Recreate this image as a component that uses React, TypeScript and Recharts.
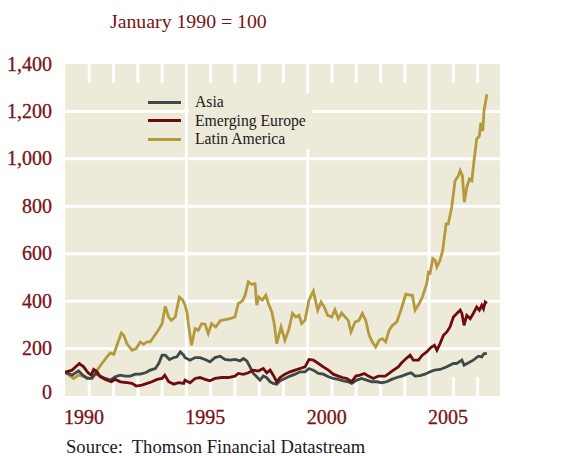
import React from 'react';
import { LineChart, Line, XAxis, YAxis, CartesianGrid } from 'recharts';

// Years are offsets from January 1990
const latamT = [0,0.36,0.56,0.84,1.04,1.18,1.32,1.52,1.73,1.87,2.01,2.14,2.32,2.42,2.55,2.76,2.93,3.10,3.24,3.38,3.51,3.65,3.86,4.00,4.13,4.27,4.38,4.54,4.71,4.85,4.94,5.03,5.08,5.21,5.36,5.49,5.63,5.77,5.90,6.04,6.21,6.39,6.59,6.80,7.00,7.14,7.31,7.42,7.55,7.69,7.83,7.90,7.99,8.13,8.27,8.38,8.52,8.62,8.72,8.90,9.06,9.23,9.37,9.51,9.64,9.75,9.89,10.05,10.23,10.41,10.55,10.68,10.82,10.99,11.12,11.26,11.40,11.54,11.67,11.78,11.95,12.11,12.25,12.39,12.53,12.66,12.80,12.94,13.07,13.21,13.35,13.49,13.67,13.84,14.04,14.22,14.31,14.42,14.59,14.72,14.90,14.97,15.04,15.15,15.25,15.32,15.45,15.56,15.70,15.79,15.93,16.07,16.21,16.28,16.37,16.45,16.55,16.66,16.76,16.85,16.96,17.07,17.13,17.21,17.26,17.38];
const latamV = [100,74,88,81,74,81,109,137,165,182,176,214,266,256,221,193,200,228,218,228,228,249,280,305,378,333,319,333,417,404,385,350,305,214,284,277,305,303,263,305,291,317,322,326,333,390,401,425,481,471,474,383,417,404,425,390,354,305,221,291,235,284,348,333,340,305,320,404,442,362,396,375,340,333,364,326,350,333,319,270,312,319,348,319,256,228,207,235,242,228,277,298,312,362,429,425,425,362,390,417,474,522,518,579,572,544,572,614,726,726,796,908,929,950,929,817,880,915,908,992,1083,1097,1153,1118,1202,1272];

const europeT = [0,0.29,0.59,0.77,0.95,1.08,1.18,1.32,1.45,1.66,1.91,2.07,2.28,2.55,2.76,2.93,3.17,3.38,3.58,3.79,4.00,4.11,4.27,4.48,4.68,4.89,4.94,5.15,5.36,5.56,5.77,5.97,6.18,6.46,6.73,7.00,7.14,7.35,7.55,7.76,7.96,8.17,8.31,8.45,8.58,8.72,8.86,9.06,9.27,9.48,9.68,9.89,10.05,10.23,10.44,10.64,10.85,11.05,11.26,11.43,11.61,11.81,11.98,12.15,12.33,12.50,12.70,12.91,13.19,13.35,13.53,13.73,13.87,14.01,14.22,14.35,14.56,14.72,14.90,15.08,15.22,15.32,15.45,15.59,15.73,15.86,16.00,16.14,16.28,16.35,16.44,16.55,16.69,16.82,16.96,17.07,17.17,17.24,17.31,17.38];
const europeV = [100,109,137,123,98,88,112,102,81,70,60,70,60,56,53,42,46,53,60,70,74,88,60,50,56,53,67,56,74,78,70,64,74,78,78,84,95,91,98,109,105,116,98,109,88,60,78,92,102,109,116,123,154,151,137,123,109,92,84,78,74,60,84,88,95,84,74,84,84,95,109,123,140,154,172,151,151,172,186,205,214,193,221,256,270,291,333,348,362,348,298,340,326,348,375,362,383,368,396,390];

const asiaT = [0,0.29,0.56,0.73,0.91,1.11,1.25,1.45,1.66,1.87,2.07,2.28,2.48,2.69,2.90,3.10,3.31,3.51,3.72,3.86,4.00,4.13,4.30,4.48,4.61,4.75,4.89,4.94,5.15,5.36,5.56,5.77,5.97,6.18,6.39,6.59,6.80,7.00,7.21,7.35,7.49,7.62,7.76,7.90,8.03,8.17,8.31,8.45,8.58,8.72,8.86,9.06,9.27,9.48,9.68,9.89,10.05,10.23,10.44,10.64,10.85,11.05,11.26,11.47,11.67,11.81,12.02,12.22,12.43,12.64,12.84,13.05,13.25,13.46,13.67,13.87,14.08,14.26,14.42,14.63,14.83,15.04,15.22,15.45,15.73,16.00,16.14,16.35,16.44,16.62,16.82,17.03,17.17,17.26,17.38];
const asiaV = [100,88,106,88,74,74,95,84,74,67,81,88,84,84,92,92,98,109,116,137,172,172,154,162,165,186,172,162,151,162,162,154,144,162,168,154,151,154,148,158,148,123,95,81,67,84,77,60,53,50,64,74,84,92,102,102,116,109,95,92,81,74,70,64,60,53,67,74,67,60,60,56,60,70,78,84,92,98,84,86,92,102,109,112,123,137,137,151,130,140,151,168,165,179,179];

const BASE_YEAR = 1990;
const yearTicks = [1990,1991,1992,1993,1994,1995,1996,1997,1998,1999,2000,2001,2002,2003,2004,2005,2006,2007];
const yearLabels = [1990, 1995, 2000, 2005];
const valueTicks = [0, 200, 400, 600, 800, 1000, 1200, 1400];

const seriesNames = ['Asia', 'Emerging Europe', 'Latin America'];
const title = 'January 1990 = 100';
const source = 'Source:  Thomson Financial Datastream';

const build = (t: number[], v: number[]) => t.map((d, i) => ({ t: BASE_YEAR + d, v: v[i] }));
const asiaData = build(asiaT, asiaV);
const europeData = build(europeT, europeV);
const latamData = build(latamT, latamV);

const COLORS = { asia: '#3d4a48', europe: '#6e0b0e', latam: '#b39a3a' };
const BG = '#eeead9';
const RED_TEXT = '#7a1214';
const FONT = '"Liberation Serif", "Times New Roman", serif';

const fmt = (n: number) => n.toLocaleString('en-US');

const tickText = { fill: RED_TEXT, fontFamily: FONT, fontSize: 20, stroke: RED_TEXT, strokeWidth: 0.3 };

const LeftTick = (p: any) => (
  <text x={p.x} y={p.y} dy={p.payload.value === 0 ? '0.15em' : '0.33em'} textAnchor="end" {...tickText}>
    {fmt(p.payload.value)}
  </text>
);
const RightTick = (p: any) => (
  <text x={p.x + 58} y={p.y} dy={p.payload.value === 0 ? '0.15em' : '0.33em'} textAnchor="end" {...tickText}>
    {fmt(p.payload.value)}
  </text>
);
const BottomTick = (p: any) => {
  const v = p.payload.value;
  if (!yearLabels.includes(v)) return <g />;
  return (
    <text x={p.x - 1} y={p.y} dy="0.33em" textAnchor="start" {...tickText}>
      {v}
    </text>
  );
};

const VLine = (p: any) => {
  const yr = yearTicks[p.index];
  if (p.index === 0 || yr === undefined) return <g key={p.key} />;
  if (yr % 5 === 0) {
    return <line key={p.key} x1={p.x1} x2={p.x2} y1={p.y1} y2={p.y2} stroke="#fff" strokeWidth={3} />;
  }
  const len = 19;
  return (
    <g key={p.key}>
      <line x1={p.x1} x2={p.x1} y1={p.y1} y2={p.y1 + len} stroke="#fff" strokeWidth={3} />
      <line x1={p.x1} x2={p.x1} y1={p.y2 - len} y2={p.y2} stroke="#fff" strokeWidth={3} />
    </g>
  );
};
const HLine = (p: any) => {
  const val = valueTicks[p.index];
  if (val === 0 || val === 1400 || val === undefined) return <g key={p.key} />;
  return <line key={p.key} x1={p.x1} x2={p.x2} y1={p.y1} y2={p.y2} stroke="#fff" strokeWidth={3} />;
};

const legendItems = [
  { name: seriesNames[0], color: COLORS.asia },
  { name: seriesNames[1], color: COLORS.europe },
  { name: seriesNames[2], color: COLORS.latam },
];

export default function App() {
  return (
    <div style={{ position: 'absolute', left: 0, top: 0, width: 561, height: 456, background: '#fff' }}>
      <LineChart width={561} height={456} data={latamData} margin={{ top: 64, right: 0, bottom: 0, left: 0 }}>
        <CartesianGrid yAxisId="left" fill={BG} fillOpacity={1} stroke="none" horizontal={HLine} vertical={VLine} />
        <XAxis
          dataKey="t"
          type="number"
          domain={[1990, 2007.92]}
          ticks={yearTicks}
          interval={0}
          height={60}
          axisLine={false}
          tickLine={false}
          tickSize={0}
          tickMargin={21}
          tick={BottomTick}
          allowDataOverflow
        />
        <YAxis yAxisId="left" orientation="left" width={65} domain={[0, 1400]} ticks={valueTicks} interval={0} axisLine={false} tickLine={false} tickSize={0} tickMargin={13} tick={LeftTick} />
        <YAxis yAxisId="right" orientation="right" width={61} domain={[0, 1400]} ticks={valueTicks} interval={0} axisLine={false} tickLine={false} tickSize={0} tickMargin={0} tick={RightTick} />
        <Line yAxisId="left" data={latamData} dataKey="v" stroke={COLORS.latam} strokeWidth={2.8} dot={false} isAnimationActive={false} />
        <Line yAxisId="left" data={asiaData} dataKey="v" stroke={COLORS.asia} strokeWidth={2.8} dot={false} isAnimationActive={false} />
        <Line yAxisId="left" data={europeData} dataKey="v" stroke={COLORS.europe} strokeWidth={2.8} dot={false} isAnimationActive={false} />
      </LineChart>

      <div style={{ position: 'absolute', left: 110, top: 9, fontFamily: FONT, fontSize: 19.8, color: RED_TEXT, whiteSpace: 'nowrap', lineHeight: '24px' }}>
        {title}
      </div>

      {legendItems.map((it, i) => (
        <div key={it.name} style={{ position: 'absolute', left: 148, top: 100.5 + i * 18.5, width: 33, height: 3, background: it.color }} />
      ))}
      <div style={{ position: 'absolute', left: 189, top: 93, width: 123, height: 56, background: BG }}>
        {legendItems.map((it, i) => (
          <div key={it.name} style={{ position: 'absolute', left: 6, top: i * 18.5, fontFamily: FONT, fontSize: 15.7, color: '#1a1a1a', whiteSpace: 'nowrap', lineHeight: '18px' }}>
            {it.name}
          </div>
        ))}
      </div>

      <div style={{ position: 'absolute', left: 66, top: 435, fontFamily: FONT, fontSize: 18.6, color: '#1a1a1a', whiteSpace: 'pre', lineHeight: '24px' }}>
        {source}
      </div>
    </div>
  );
}
